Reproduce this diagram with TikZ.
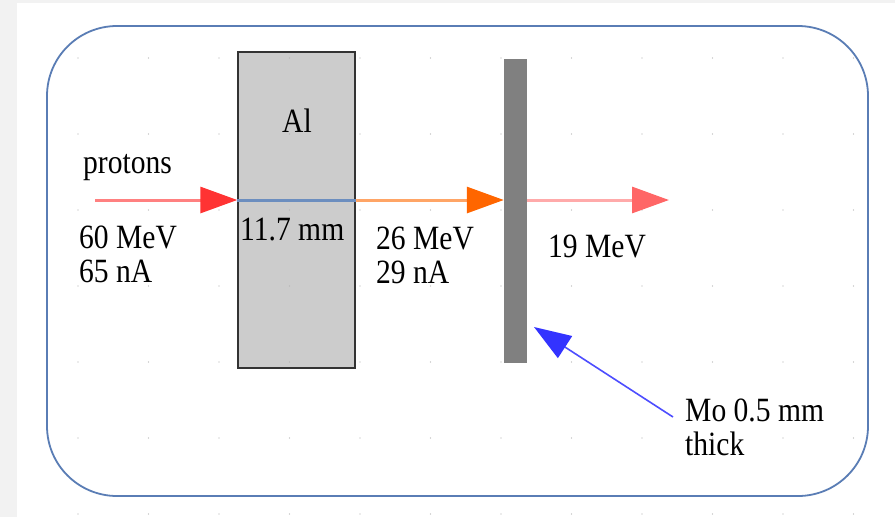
\documentclass[tikz,border=0pt]{standalone}
\usepackage{fontspec}
\setmainfont{Liberation Serif}[FakeStretch=0.87]
\usetikzlibrary{arrows.meta}
\definecolor{bgray}{HTML}{F2F2F2}
\definecolor{frameblue}{HTML}{5A7DB5}
\definecolor{alfill}{HTML}{CCCCCC}
\definecolor{mofill}{HTML}{808080}
\definecolor{redline}{HTML}{FF8080}
\definecolor{redhead}{HTML}{FF3333}
\definecolor{steel}{HTML}{6C8EBF}
\definecolor{orline}{HTML}{FFA566}
\definecolor{orhead}{HTML}{FF6600}
\definecolor{pkline}{HTML}{FFAAAA}
\definecolor{pkhead}{HTML}{FF6666}
\definecolor{blline}{HTML}{4D4DFF}
\definecolor{blhead}{HTML}{3333FF}
\definecolor{dotgray}{HTML}{B0B0B0}
\tikzset{
  lbl/.style={inner sep=0pt, anchor=base west, align=left, font=\fontsize{34}{34}\selectfont, text=black},
  beam/.style={line width=3pt},
  bighead/.style={-{Triangle[length=37pt,width=26pt,color=#1]}},
}
\begin{document}
\begin{tikzpicture}[x=1pt,y=-1pt]
\useasboundingbox (0,0) rectangle (895,517);
\fill[bgray] (0,0) rectangle (895,517);
\fill[white] (17,3) rectangle (895,517);
% frame
\draw[frameblue, line width=1.8pt, rounded corners=70pt] (47,26) rectangle (868,496);
% Al block
\node[draw=black!80, line width=1.4pt, fill=alfill, minimum width=117pt, minimum height=316pt, inner sep=0pt] (al) at (296.5,210) {};
% grid dots
\foreach \i in {0,...,11} {
  \foreach \j in {0,...,6} {
    \fill[dotgray] (78+70.5*\i, 58+76*\j) circle (0.7pt);
  }
}
% Mo bar
\node[fill=mofill, minimum width=23pt, minimum height=304pt, inner sep=0pt] (mo) at (515.5,211) {};
% beam coordinates
\coordinate (src) at (95,200);
\coordinate (out) at (669,200);
\coordinate (moarrow) at (673,417);
\coordinate (motip) at (534,327);
% beams
\draw[beam, redline, bighead=redhead] (src) -- (al.west |- src);
\draw[beam, steel] (al.west |- src) -- (al.east |- src);
\draw[beam, orline, bighead=orhead] (al.east |- src) -- (mo.west |- src);
\draw[beam, pkline, bighead=pkhead] (mo.east |- src) -- (out);
\draw[line width=1.6pt, blline, bighead=blhead] (moarrow) -- (motip);
% labels
\node[lbl] (tprot) at (83,173) {protons};
\node[lbl] (tin) at (79,282) {60 MeV\\65 nA};
\node[lbl, anchor=base] (tal) at (297,132) {Al};
\node[lbl] (tthick) at (240,240) {11.7 mm};
\node[lbl] (tmid) at (376,283) {26 MeV\\29 nA};
\node[lbl] (tout) at (548,257) {19 MeV};
\node[lbl] (tmo) at (685,455) {Mo 0.5 mm\\thick};
\end{tikzpicture}
\end{document}
